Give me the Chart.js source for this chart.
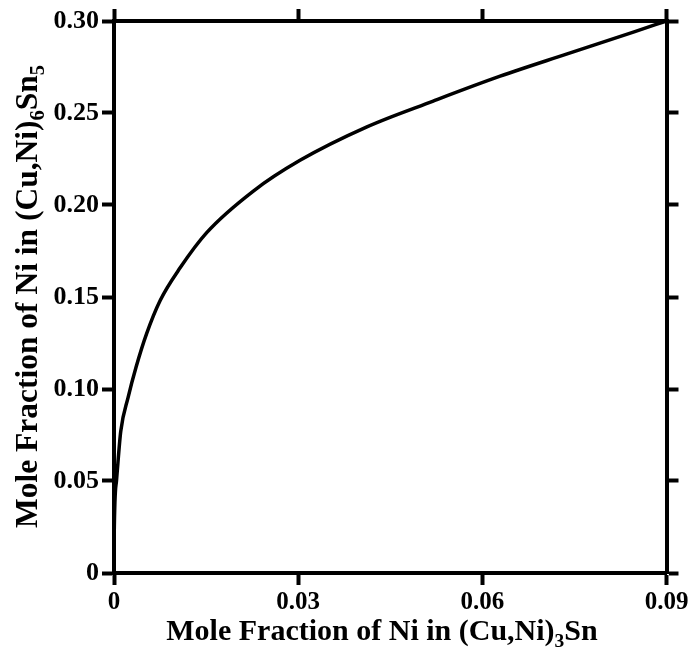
<!DOCTYPE html>
<html>
<head>
<meta charset="utf-8">
<script src="https://cdn.jsdelivr.net/npm/chart.js@4"></script>
<style>
  body { margin: 0; background: #fff; }
  canvas { display: block; }
</style>
</head>
<body>
<canvas id="chart" width="694" height="659"></canvas>
<script>
// 곡선 데이터
const niIn3Sn = [0, 0.00003, 0.0004, 0.0011, 0.0023, 0.0036, 0.0053, 0.0075, 0.0108, 0.0151, 0.0227, 0.0303, 0.0412, 0.052, 0.0629, 0.0737, 0.0846, 0.09];
const niIn6Sn5 = [0, 0.02, 0.05, 0.077, 0.0955, 0.112, 0.130, 0.148, 0.166, 0.185, 0.2076, 0.2243, 0.2425, 0.2565, 0.270, 0.282, 0.294, 0.30];

// 눈금
const xTicks = [0, 0.03, 0.06, 0.09];
const xTickLabels = ["0", "0.03", "0.06", "0.09"];
const yTicks = [0, 0.05, 0.10, 0.15, 0.20, 0.25, 0.30];
const yTickLabels = ["0", "0.05", "0.10", "0.15", "0.20", "0.25", "0.30"];

const FONT = '"Liberation Serif", "Times New Roman", serif';

function fixTicks(values) {
    return scale => { scale.ticks = values.map(v => ({value: v})); };
}

function axis(position, min, max, values, labels, size, showLabels, fontSize) {
    const horizontal = position === "top" || position === "bottom";
    return {
        type: "linear",
        position: position,
        min: min, max: max,
        afterBuildTicks: fixTicks(values),
        afterFit: s => { if (horizontal) s.height = size; else s.width = size; },
        grid: {drawOnChartArea: false, drawTicks: true, tickLength: 12, tickWidth: 4, tickColor: "#000"},
        border: {display: true, width: 4, color: "#000"},
        ticks: {
            display: showLabels,
            padding: 3,
            color: "#000",
            font: {family: FONT, size: fontSize, weight: "bold"},
            maxRotation: 0,
            autoSkip: false,
            callback: (v, i) => labels[i],
        },
    };
}

// 아래첨자가 있는 축 제목 그리기
function drawParts(ctx, parts, size) {
    let w = 0;
    for (const p of parts) {
        ctx.font = "bold " + (p.sub ? size * 0.65 : size) + "px " + FONT;
        w += ctx.measureText(p.t).width;
    }
    let x = -w / 2;
    for (const p of parts) {
        ctx.font = "bold " + (p.sub ? size * 0.65 : size) + "px " + FONT;
        ctx.fillText(p.t, x, p.sub ? size * 0.22 : 0);
        x += ctx.measureText(p.t).width;
    }
}

const titlePlugin = {
    id: "titles",
    afterDraw(chart) {
        const ctx = chart.ctx;
        ctx.save();
        ctx.fillStyle = "#000";
        ctx.textAlign = "left";
        ctx.textBaseline = "alphabetic";
        ctx.translate(382, 640);
        drawParts(ctx, [{t: "Mole Fraction of Ni in (Cu,Ni)"}, {t: "3", sub: true}, {t: "Sn"}], 30);
        ctx.restore();

        ctx.save();
        ctx.fillStyle = "#000";
        ctx.textAlign = "left";
        ctx.textBaseline = "alphabetic";
        ctx.translate(37, 296.5);
        ctx.rotate(-Math.PI / 2);
        drawParts(ctx, [{t: "Mole Fraction of Ni in (Cu,Ni)"}, {t: "6", sub: true}, {t: "Sn"}, {t: "5", sub: true}], 31.5);
        ctx.restore();
    },
};

new Chart(document.getElementById("chart"), {
    type: "line",
    data: {
        datasets: [{
            data: niIn3Sn.map((x, i) => ({x: x, y: niIn6Sn5[i]})),
            borderColor: "#000",
            borderWidth: 3.5,
            pointRadius: 0,
            cubicInterpolationMode: "monotone",
            fill: false,
        }],
    },
    options: {
        responsive: false,
        animation: false,
        layout: {padding: 0},
        plugins: {legend: {display: false}, tooltip: {enabled: false}},
        scales: {
            x: axis("bottom", 0, 0.09, xTicks, xTickLabels, 86, true, 25),
            x2: axis("top", 0, 0.09, xTicks, xTickLabels, 21, false, 25),
            y: axis("left", 0, 0.30, yTicks, yTickLabels, 114, true, 26),
            y2: axis("right", 0, 0.30, yTicks, yTickLabels, 27.5, false, 26),
        },
    },
    plugins: [titlePlugin],
});
</script>
</body>
</html>
